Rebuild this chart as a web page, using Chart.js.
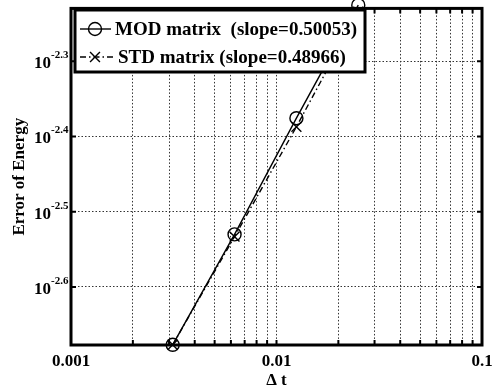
<!DOCTYPE html>
<html lang="en">
<head>
<meta charset="UTF-8">
<title>Error of Energy vs time step</title>
<script src="https://cdn.jsdelivr.net/npm/chart.js"></script>
<style>
  body { margin: 0; background: #fff; }
  #wrap { position: relative; width: 493px; height: 391px; }
</style>
</head>
<body>
<div id="wrap"><canvas id="errChart" width="493" height="391"></canvas></div>
<script>
// time steps and energy errors for both mass matrices
const dtValues = [0.003125, 0.00625, 0.0125, 0.025];
const modErr = [0.002104, 0.00295, 0.00421, 0.00595];
const stdErr = [0.002104, 0.00293, 0.0041, 0.00583];
const seriesNames = ['MOD matrix  (slope=0.50053)', 'STD matrix (slope=0.48966)'];

// axis ticks (log grid)
const xTicks = [0.001, 0.002, 0.003, 0.004, 0.005, 0.006, 0.007, 0.008, 0.009,
                0.01, 0.02, 0.03, 0.04, 0.05, 0.06, 0.07, 0.08, 0.09, 0.1];
const xTickLabels = ['0.001', '0.01', '0.1'];
const yExponents = [-2.6, -2.5, -2.4, -2.3];
const yRange = [-2.6772, -2.2298];

const SERIF = '"Liberation Serif", "Times New Roman", serif';

function drawCircle(ctx, x, y, r) {
    ctx.beginPath();
    ctx.arc(x, y, r, 0, Math.PI * 2);
    ctx.stroke();
}
function drawCross(ctx, x, y, r) {
    const d = r * Math.SQRT1_2;
    ctx.beginPath();
    ctx.moveTo(x - d, y - d); ctx.lineTo(x + d, y + d);
    ctx.moveTo(x - d, y + d); ctx.lineTo(x + d, y - d);
    ctx.stroke();
}

const decorations = {
    id: 'decorations',
    afterDraw(chart) {
        const ctx = chart.ctx;
        const a = chart.chartArea;
        const xs = chart.scales.x, ys = chart.scales.y;
        ctx.save();
        ctx.strokeStyle = '#000';
        ctx.fillStyle = '#000';
        ctx.setLineDash([]);

        // inward tick marks
        ctx.lineWidth = 2;
        ctx.beginPath();
        xTicks.forEach(v => {
            const px = xs.getPixelForValue(v);
            ctx.moveTo(px, a.bottom); ctx.lineTo(px, a.bottom - 5);
            ctx.moveTo(px, a.top); ctx.lineTo(px, a.top + 5);
        });
        yExponents.forEach(e => {
            const py = ys.getPixelForValue(Math.pow(10, e));
            ctx.moveTo(a.left, py); ctx.lineTo(a.left + 5, py);
            ctx.moveTo(a.right, py); ctx.lineTo(a.right - 5, py);
        });
        ctx.stroke();

        // frame
        ctx.lineWidth = 3;
        ctx.strokeRect(a.left, a.top, a.right - a.left, a.bottom - a.top);

        // x tick labels
        ctx.font = 'bold 17px ' + SERIF;
        ctx.textAlign = 'center';
        ctx.textBaseline = 'middle';
        xTickLabels.forEach(t => {
            ctx.fillText(t, xs.getPixelForValue(parseFloat(t)), 362);
        });
        ctx.fillText('\u0394 t', (a.left + a.right) / 2, 381);

        // y tick labels: 10^exp
        yExponents.forEach(e => {
            const py = ys.getPixelForValue(Math.pow(10, e));
            ctx.font = 'bold 17px ' + SERIF;
            ctx.textAlign = 'right';
            ctx.textBaseline = 'alphabetic';
            ctx.fillText('10', 51, py + 7);
            ctx.font = 'bold 11px ' + SERIF;
            ctx.textAlign = 'left';
            ctx.fillText(e.toFixed(1), 51, py - 3);
        });

        // y title
        ctx.save();
        ctx.translate(20, (a.top + a.bottom) / 2);
        ctx.rotate(-Math.PI / 2);
        ctx.font = 'bold 17px ' + SERIF;
        ctx.textAlign = 'center';
        ctx.textBaseline = 'middle';
        ctx.fillText('Error of Energy', 0, 0);
        ctx.restore();

        // legend box
        const lx = 75, ly = 10, lw = 290, lh = 62;
        ctx.fillStyle = '#fff';
        ctx.fillRect(lx, ly, lw, lh);
        ctx.lineWidth = 3;
        ctx.strokeRect(lx, ly, lw, lh);
        ctx.fillStyle = '#000';
        ctx.font = 'bold 19px ' + SERIF;
        ctx.textAlign = 'left';
        ctx.textBaseline = 'middle';

        ctx.lineWidth = 1.4;
        ctx.beginPath(); ctx.moveTo(80, 29); ctx.lineTo(111, 29); ctx.stroke();
        drawCircle(ctx, 95, 29, 6.5);
        ctx.fillText(seriesNames[0], 115, 30);

        ctx.setLineDash([6, 3, 1.5, 3]);
        ctx.beginPath(); ctx.moveTo(80, 57); ctx.lineTo(113, 57); ctx.stroke();
        ctx.setLineDash([]);
        drawCross(ctx, 95, 57, 7);
        ctx.fillText(seriesNames[1], 118, 58);

        ctx.restore();
    }
};

new Chart(document.getElementById('errChart'), {
    type: 'line',
    data: {
        datasets: [{
            label: seriesNames[0],
            data: dtValues.map((x, i) => ({ x: x, y: modErr[i] })),
            borderColor: '#000',
            borderWidth: 1.4,
            pointStyle: 'circle',
            pointRadius: 6.5,
            pointBorderWidth: 1.4,
            pointBorderColor: '#000',
            pointBackgroundColor: 'rgba(0,0,0,0)',
            clip: false
        }, {
            label: seriesNames[1],
            data: dtValues.map((x, i) => ({ x: x, y: stdErr[i] })),
            borderColor: '#000',
            borderWidth: 1.4,
            borderDash: [6, 3, 1.5, 3],
            pointStyle: 'crossRot',
            pointRadius: 7,
            pointBorderWidth: 1.4,
            pointBorderColor: '#000',
            clip: false
        }]
    },
    options: {
        responsive: false,
        animation: false,
        devicePixelRatio: 1,
        layout: { padding: { left: 71, right: 11, top: 7, bottom: 46 } },
        plugins: { legend: { display: false }, tooltip: { enabled: false } },
        scales: {
            x: {
                type: 'logarithmic',
                min: 0.001,
                max: 0.1,
                afterBuildTicks: s => { s.ticks = xTicks.map(v => ({ value: v })); },
                ticks: { display: false },
                grid: { color: '#333', lineWidth: 1, drawTicks: false },
                border: { display: false, dash: [1.5, 2] }
            },
            y: {
                type: 'logarithmic',
                min: Math.pow(10, yRange[0]),
                max: Math.pow(10, yRange[1]),
                afterBuildTicks: s => { s.ticks = yExponents.map(e => ({ value: Math.pow(10, e) })); },
                ticks: { display: false },
                grid: { color: '#333', lineWidth: 1, drawTicks: false },
                border: { display: false, dash: [1.5, 2] }
            }
        }
    },
    plugins: [decorations]
});
</script>
</body>
</html>
